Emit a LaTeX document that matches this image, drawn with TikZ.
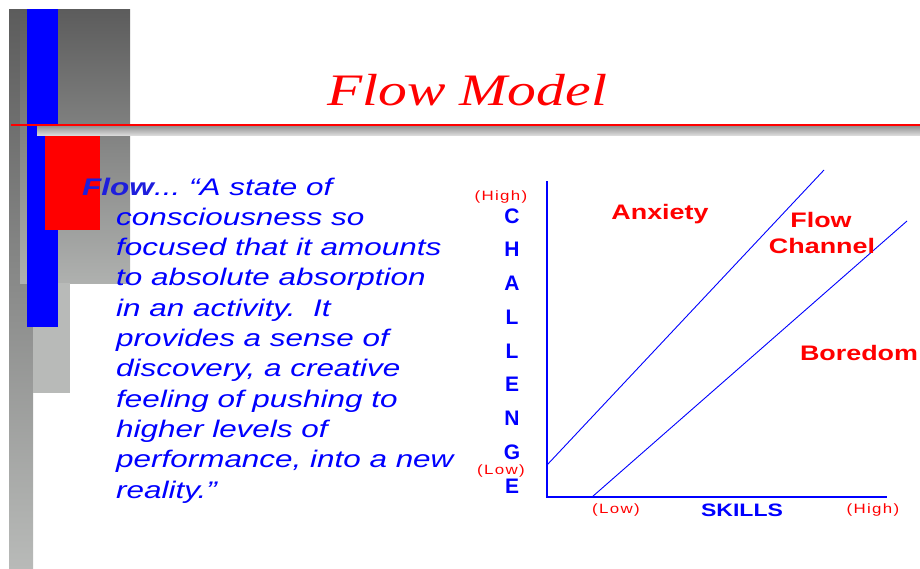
\documentclass[tikz,border=0pt]{standalone}
\usepackage{fontspec}
\setmainfont{Liberation Sans}
\newfontfamily\slidefont[FakeStretch=1.28]{Liberation Sans}
\newfontfamily\quotefont[FakeStretch=1.31]{Liberation Sans}
\newfontfamily\titlefont[FakeStretch=1.28]{Liberation Serif}
\newfontfamily\tickfont[FakeStretch=1.25,LetterSpace=10]{Liberation Sans}

\definecolor{greydark}{RGB}{92,92,92}
\definecolor{greylight}{RGB}{184,186,184}
\definecolor{flowblue}{RGB}{30,30,220}

\begin{document}
\begin{tikzpicture}[x=1pt, y=-1pt, inner sep=0pt,
    quote/.style={anchor=base west, blue, font=\quotefont\fontsize{24}{30}\selectfont\itshape},
    axislabel/.style={anchor=base, blue, font=\slidefont\fontsize{18}{22}\selectfont\bfseries},
    ticklabel/.style={anchor=base, red, font=\tickfont\fontsize{13.5}{16}\selectfont},
    zonelabel/.style={anchor=base, red, font=\slidefont\fontsize{21}{25}\selectfont\bfseries}]
        \useasboundingbox (0,0) rectangle (920,568);

        % The grey bars on the left
        \shade[top color=greydark, bottom color=greylight] (9,9) rectangle (33,568);
        \shade[top color=greydark, bottom color=greylight!95!black] (20,9) rectangle (130,283);
        \fill[greylight] (33,283) rectangle (70,393);

        % The coloured blocks
        \fill[blue] (27,9) rectangle (58,327);
        \fill[red] (45,135) rectangle (100,230);

        % Title rule and the bar under it
        \shade[top color=gray!85, bottom color=gray!30] (37,126) rectangle (920,135);
        \draw[red, line width=2pt] (11,125) -- (920,125);

        % The title
        \node[anchor=base, red, font=\titlefont\fontsize{45}{50}\selectfont\itshape] (title) at (467,105) {Flow Model};

        % The quote
        \node[quote, flowblue, font=\quotefont\fontsize{24}{30}\selectfont\itshape\bfseries] (flowword) at (82,195) {Flow};
        \node[quote] (flowintro) at (flowword.base east) {...\ “A state of};
        \foreach \line [count=\i] in {consciousness so, focused that it amounts, to absolute absorption,
            in an activity.\ \ It, provides a sense of, {discovery, a creative}, feeling of pushing to,
            higher levels of, {performance, into a new}, reality.”}
            \node[quote] (quote\i) at (116, {195+30.3*\i}) {\line};

        % The axes
        \coordinate (O) at (547,497);
        \coordinate (ytop) at (547,181);
        \coordinate (xend) at (887,497);
        \draw[blue, line width=2pt] (ytop) -- (O) -- (xend);

        % The channel borders
        \coordinate (anxlow) at (547,465);
        \coordinate (anxhigh) at (824,170);
        \coordinate (borlow) at (592,497);
        \coordinate (borhigh) at (907,221);
        \draw[blue, line width=0.9pt] (anxlow) -- (anxhigh);
        \draw[blue, line width=0.9pt] (borlow) -- (borhigh);

        % Axis labels
        \node[ticklabel] (yhigh) at (501,200) {(High)};
        \node[ticklabel] (ylow) at (501,474) {(Low)};
        \foreach \letter [count=\i from 0] in {C,H,A,L,L,E,N,G,E}
            \node[axislabel, font=\fontsize{21}{24}\selectfont\bfseries] (challenge\i) at (512, {223+33.75*\i}) {\letter};
        \node[ticklabel] (xlow) at (616,513) {(Low)};
        \node[axislabel] (skills) at (742,516) {SKILLS};
        \node[ticklabel] (xhigh) at (873,513) {(High)};

        % The zones
        \node[zonelabel] (anxiety) at (660,219) {Anxiety};
        \node[zonelabel] (flowzone) at (821,227) {Flow};
        \node[zonelabel] (channel) at (822,253) {Channel};
        \node[zonelabel] (boredom) at (859,360) {Boredom};

    \end{tikzpicture}
\end{document}
